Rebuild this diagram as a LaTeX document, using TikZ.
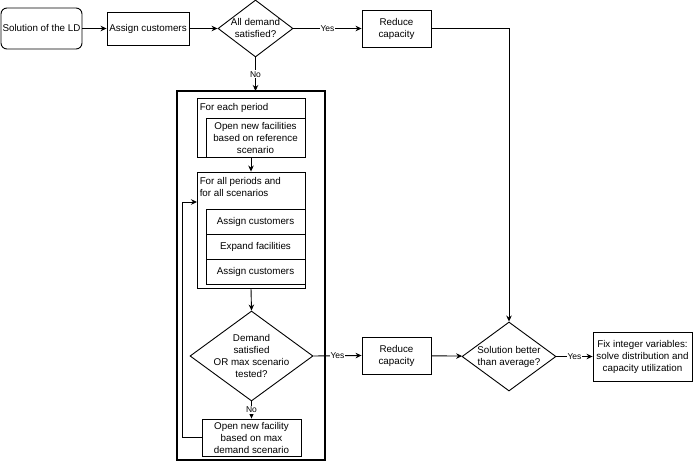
\documentclass[tikz,border=0pt]{standalone}
\usepackage{fontspec}
\setmainfont{Liberation Sans}
\usetikzlibrary{arrows.meta, shapes.geometric}

\begin{document}
\begin{tikzpicture}[x=1pt, y=-1pt,
    box/.style={draw, line width=0.9pt, align=center, inner sep=0pt, font=\fontsize{9.8}{12}\selectfont},
    dec/.style={draw, diamond, line width=0.9pt, inner sep=0pt},
    txt/.style={inner sep=0pt, font=\fontsize{9.8}{12}\selectfont},
    flow/.style={line width=0.9pt, -{Stealth[length=6pt, width=5.5pt]}},
    yn/.style={fill=white, inner sep=1pt, font=\fontsize{8.5}{9}\selectfont}]
  \useasboundingbox (0,0) rectangle (693,462);
  % top row
  \node[box, rounded corners=6pt, minimum width=81, minimum height=41] (sol) at (41.5,28.5) {Solution of the LD};
  \node[box, minimum width=82, minimum height=33] (assign) at (148,28.5) {Assign customers};
  \node[dec, minimum width=75, minimum height=57,
        label={[txt, align=center]center:All demand\\satisfied?}] (alld) at (255.5,28.5) {};
  \node[box, minimum width=69, minimum height=37] (red1) at (396.5,28.5) {Reduce\\capacity};
  % heuristic frame
  \draw[line width=2.2pt] (177,91) rectangle (325,460);
  \coordinate (frametop) at (255.5,91);
  \node[box, minimum width=108, minimum height=59] (each) at (251,127.5) {};
  \node[txt, anchor=north west] (eachlbl) at ([shift={(3,6)}]each.north west) {For each period};
  \node[box, minimum width=99, minimum height=39] (open1) at (255.5,137.5) {Open new facilities\\based on reference\\scenario};
  \node[box, minimum width=108, minimum height=116] (all) at (251,230) {};
  \node[txt, anchor=north west, align=left] (alllbl) at ([shift={(3,6)}]all.north west) {For all periods and\\for all scenarios};
  \node[box, minimum width=99, minimum height=25] (asg2) at (255.5,221.5) {Assign customers};
  \node[box, minimum width=99, minimum height=25] (expand) at (255.5,246.5) {Expand facilities};
  \node[box, minimum width=99, minimum height=25] (asg3) at (255.5,271.5) {Assign customers};
  \node[dec, minimum width=123, minimum height=90,
        label={[txt, align=center]center:Demand\\satisfied\\OR max scenario\\tested?}] (dec2) at (251.5,356) {};
  \node[box, minimum width=99, minimum height=37] (newf) at (251.5,437.5) {Open new facility\\based on max\\demand scenario};
  \coordinate (loop) at (182,437.5);
  \coordinate (allin) at (197,202);
  % bottom row
  \node[box, minimum width=69, minimum height=37] (red2) at (396.5,355.5) {Reduce\\capacity};
  \node[dec, minimum width=94, minimum height=69,
        label={[txt, align=center]center:Solution better\\than average?}] (dec3) at (509,356.5) {};
  \node[box, minimum width=99, minimum height=49] (fix) at (642.5,356.5) {Fix integer variables:\\solve distribution and\\capacity utilization};
  % connectors
  \draw[flow] (sol) -- (assign);
  \draw[flow] (assign) -- (alld);
  \draw[flow] (alld) -- node[yn] {Yes} (red1);
  \draw[flow] (alld.south) -- node[yn] {No} (frametop);
  \draw[flow] (red1.east) -| (dec3.north);
  \draw[flow] (each.south) -- (all.north);
  \draw[flow] (all.south) -- (dec2.north);
  \draw[flow] (dec2.south) -- node[yn] {No} (newf.north);
  \draw[flow] (newf.west) -- (loop) |- (allin);
  \draw[flow] (dec2.east) -- node[yn] {Yes} (red2.west);
  \draw[flow] (red2) -- (dec3);
  \draw[flow] (dec3.east) -- node[yn] {Yes} (fix.west);
\end{tikzpicture}
\end{document}
